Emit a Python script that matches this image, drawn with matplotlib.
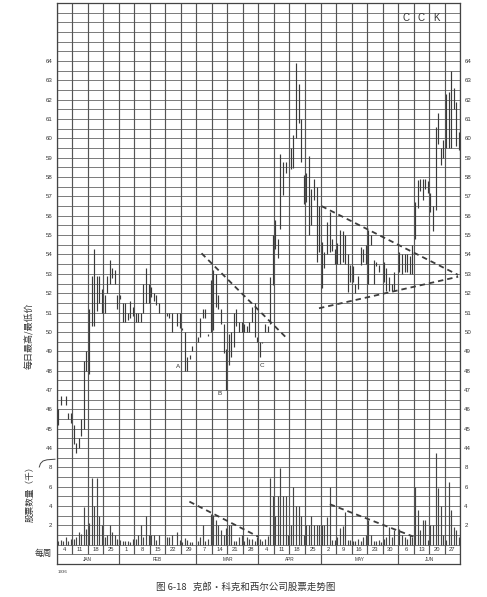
import matplotlib
matplotlib.use("Agg")
import matplotlib.pyplot as plt
from matplotlib.lines import Line2D
import numpy as np

plt.rcParams['font.family'] = ['Liberation Sans', 'DejaVu Sans']
CJK = ['Noto Sans CJK SC', 'DejaVu Sans']

# weekly columns (6 trading days each), Jan - Jun 1936
week_labels = ["4", "11", "18", "25", "1", "8", "15", "22", "29", "7", "14", "21", "28",
               "4", "11", "18", "25", "2", "9", "16", "23", "30", "6", "13", "20", "27"]
month_labels = ["JAN", "FEB", "MAR", "APR", "MAY", "JUN"]
month_weeks = [4, 5, 4, 4, 5, 4]
DAYS = 6

# daily high / low (None = no bar)
price_low = [
    45.2, 46.2, None, 46.2, 45.5, 45.3,
    44.2, 43.75, 44.0, 44.6, 45.0, 48.0,
    47.8, 50.3, 50.3, 51.1, 51.5, 51.0,
    51.0, 52.0, 52.5, 52.8, 52.5, 51.2,
    51.7, 50.5, 50.5, 50.6, 50.7, 50.8,
    50.5, 50.5, 50.5, 51.0, 51.5, 51.5,
    51.8, 51.6, 51.4, 51.0, None, None,
    50.8, 50.7, 50.0, None, 50.3, 50.2,
    50.1, 48.0, 48.0, 48.6, 49.0, None,
    49.5, 49.75, 50.7, 50.7, 49.8, 50.0,
    50.1, 51.3, 51.2, 50.4, 48.9, 47.0,
    48.3, 48.7, 49.2, 50.3, 50.0, 50.0,
    50.0, 50.0, 50.0, 50.5, 49.75, 49.5,
    48.7, 49.4, 50.0, 50.0, 50.4, 52.4,
    54.3, 53.8, 55.3, 57.1, 58.2, None,
    58.4, 58.45, 60.0, 60.8, 58.8, 56.6,
    56.7, 55.0, 55.5, 56.8, 53.6, 54.15,
    52.25, 53.3, 54.0, 54.15, 54.2, 53.5,
    53.5, 53.5, 53.6, 53.5, 52.08, 52.6,
    52.6, 52.0, 52.2, 53.45, 53.6, 53.5,
    52.5, 54.5, 52.5, 53.4, 53.1, None,
    52.6, 52.1, 52.1, 52.1, 52.1, None,
    53.1, 53.0, 53.1, 53.1, 53.0, 53.0,
    54.8, 56.4, 57.3, 56.8, 57.4, 57.2,
    56.2, 55.2, 56.3, 59.7, 58.6, 59.0,
    59.5, 59.5, 59.5, 61.5, 59.6, 59.4,
]
price_high = [
    46.0, 46.7, None, 46.7, 45.8, 45.8,
    45.2, 44.25, 44.5, 45.5, 48.5, 49.0,
    51.2, 52.9, 54.3, 52.9, 52.9, 52.2,
    51.9, 52.9, 53.7, 53.3, 53.2, 51.9,
    51.9, 51.5, 51.5, 51.0, 51.6, 51.3,
    51.0, 51.0, 51.0, 52.5, 53.3, 52.5,
    52.3, 52.0, 51.9, 51.5, None, None,
    51.0, 51.0, 51.0, None, 51.0, 51.0,
    50.2, 50.0, 48.7, 48.8, 49.25, None,
    49.75, 50.7, 51.2, 51.2, 49.9, 52.7,
    53.2, 53.0, 51.9, 51.2, 50.4, 49.1,
    49.9, 50.0, 51.0, 51.2, 50.5, 50.5,
    50.4, 50.3, 50.5, 51.3, 51.5, 49.75,
    49.5, 49.5, 50.4, 50.3, 52.85, 55.0,
    55.8, 54.8, 59.2, 58.8, 58.8, None,
    59.5, 60.2, 63.9, 62.8, 61.0, 58.1,
    58.2, 59.1, 57.4, 57.9, 57.5, 56.5,
    54.66, 54.15, 55.7, 56.2, 54.8, 54.3,
    54.6, 55.27, 55.2, 55.0, 54.0, 53.46,
    53.4, 52.5, 52.9, 54.4, 54.3, 54.5,
    55.27, 55.0, 53.7, 53.6, 53.45, None,
    53.6, 53.3, 52.85, 52.5, 53.1, None,
    54.15, 54.0, 54.0, 54.0, 53.9, 54.5,
    56.7, 57.85, 57.9, 57.9, 57.9, 57.8,
    57.2, 56.5, 60.6, 61.3, 59.5, 59.9,
    62.3, 62.4, 63.5, 62.6, 61.9, 60.35,
]
# daily volume, thousands of shares
volume = [
    0.4, 0.45, 0.4, 0.75, 0.4, 0.55,
    0.6, 0.8, 1.3, 1.1, 3.9, 1.6,
    2.2, 6.9, 4.0, 6.9, 3.0, 2.0,
    0.8, 1.0, 2.0, 1.3, 1.0, 0.6,
    0.5, 0.4, 0.35, 0.4, 0.3, 0.6,
    0.6, 1.0, 2.0, 0.8, 3.0, 1.0,
    1.0, 1.0, 0.5, 1.0, 0, 0,
    0.8, 0.8, 1.0, 0, 1.3, 0.5,
    0.3, 0.7, 0.5, 0.3, 0.3, 0,
    0.4, 0.8, 2.0, 0.4, 0.6, 3.2,
    3.1, 2.6, 2.0, 1.5, 1.0, 1.7,
    2.0, 2.0, 0.4, 0.4, 0.8, 1.0,
    0.4, 0.8, 0.6, 0.6, 0.4, 0.8,
    0.6, 0.4, 0.6, 0.9, 6.9, 5.0,
    3.0, 5.0, 7.9, 5.0, 5.0, 1.0,
    2.0, 6.0, 4.0, 4.0, 3.0, 1.0,
    2.0, 2.0, 3.0, 2.0, 2.0, 2.0,
    2.0, 2.0, 2.9, 6.0, 0.5, 0.5,
    0.8, 1.7, 1.9, 3.4, 0.5, 0.5,
    0.4, 0.4, 0.6, 0.4, 0.8, 1.0,
    2.6, 1.0, 0.4, 0.4, 0.5, 0.3,
    0.6, 0.8, 1.8, 0.8, 1.5, 0,
    1.6, 1.0, 0.8, 0.6, 1.0, 0.8,
    6.0, 3.6, 1.5, 2.6, 2.6, 0.5,
    2.0, 2.0, 9.5, 5.9, 4.0, 1.0,
    0.5, 6.5, 3.6, 1.8, 1.5, 0.8,
]

# dashed trend lines (x in trading days from chart start)
price_trend1_x, price_trend1_y = [56.0, 88.6], [54.06, 49.72]
price_trend2_x, price_trend2_y = [102.4, 155.2], [56.5, 52.94]
price_trend3_x, price_trend3_y = [101.4, 155.2], [51.22, 52.85]
vol_trend1_x, vol_trend1_v = [51.3, 77.9], [4.45, 0.83]
vol_trend2_x, vol_trend2_v = [105.6, 137.9], [4.18, 0.83]

# point labels
point_names = ["A", "B", "C"]
point_x = [47.0, 63.1, 79.2]
point_y = [48.2, 46.8, 48.25]

price_ticks = list(range(44, 65))
vol_ticks = [2, 4, 6, 8]

VOL_BASE = 39.0      # volume zero sits on this grid row
VOL_SCALE = 0.5      # 2 thousand shares per grid unit

n_days = len(week_labels) * DAYS
days = np.arange(n_days)
lo = np.array([np.nan if v is None else v for v in price_low])
hi = np.array([np.nan if v is None else v for v in price_high])
vol = np.array(volume, dtype=float)

fig = plt.figure(figsize=(4.87, 5.97), dpi=100)
ax = fig.add_axes([56.7 / 487, 33 / 597, (460.2 - 56.7) / 487, 561 / 597])
ax.set_xlim(0, n_days)
ax.set_ylim(38, 67)

# horizontal grid every half point
ax.hlines(np.arange(38.5, 67.01, 0.5), 0, n_days, color="#7a7a7a", lw=0.7, zorder=1)
# week columns
ax.vlines(np.arange(0, n_days + 1, DAYS), 38.5, 67, color="#555555", lw=0.85, zorder=1)
# month separators in the bottom row
bounds = np.cumsum([0] + month_weeks) * DAYS
ax.vlines(bounds, 38, 38.5, color="#555555", lw=0.85, zorder=1)

for s in ax.spines.values():
    s.set_color("#444444")
    s.set_linewidth(0.9)

# price bars
ok = ~np.isnan(lo)
ax.vlines(days[ok] + 0.5, lo[ok], hi[ok], color="#3a3a3a", lw=0.85, zorder=3)

# volume bars
vk = vol > 0
ax.vlines(days[vk] + 0.5, VOL_BASE, VOL_BASE + vol[vk] * VOL_SCALE,
          color="#454545", lw=0.85, zorder=3)

dash = dict(color="#3d3d3d", lw=1.3, ls=(0, (3, 2.2)), zorder=4)
ax.plot(price_trend1_x, price_trend1_y, **dash)
ax.plot(price_trend2_x, price_trend2_y, **dash)
ax.plot(price_trend3_x, price_trend3_y, **dash)
ax.plot(vol_trend1_x, [VOL_BASE + v * VOL_SCALE for v in vol_trend1_v], **dash)
ax.plot(vol_trend2_x, [VOL_BASE + v * VOL_SCALE for v in vol_trend2_v], **dash)

for name, px, py in zip(point_names, point_x, point_y):
    ax.text(px, py, name, fontsize=4.5, ha="center", va="center", color="#333333")

# y tick labels on both sides
yt = [VOL_BASE + v * VOL_SCALE for v in vol_ticks] + price_ticks
yl = [str(v) for v in vol_ticks] + [str(p) for p in price_ticks]
ax.set_yticks(yt, yl)
ax.set_xticks([])
ax.tick_params(axis="y", length=0, labelsize=4.4, labelcolor="#333333",
               labelleft=True, labelright=True, pad=3)

# week and month rows
for i, w in enumerate(week_labels):
    ax.text(i * DAYS + DAYS / 2, 38.75, w, fontsize=4.2, ha="center", va="center", color="#333333")
for i, m in enumerate(month_labels):
    ax.text((bounds[i] + bounds[i + 1]) / 2, 38.25, m, fontsize=3.4, ha="center",
            va="center", color="#333333")
ax.text(0.3, 37.6, "1936", fontsize=3.2, ha="left", va="center", color="#333333", clip_on=False)

# C C K header
for i, ch in enumerate(["C", "C", "K"]):
    ax.text((22 + i) * DAYS + DAYS / 2, 66.25, ch, fontsize=7, ha="center", va="center",
            color="#333333")

fig.text(30 / 487, 1 - 336 / 597, "每日最高/最低价", rotation=90, family=CJK,
         fontsize=6.5, ha="center", va="center", color="#333333")
fig.text(30 / 487, 1 - 492 / 597, "股票数量（千）", rotation=90, family=CJK,
         fontsize=6.2, ha="center", va="center", color="#333333")
# small bracket stroke from the volume label toward the scale
bx = [39.3, 40.5, 43.0, 47.0, 55.0]
by = [467.0, 463.5, 461.0, 459.8, 459.2]
fig.add_artist(Line2D([x / 487 for x in bx], [1 - y / 597 for y in by],
                      color="#444444", lw=0.7))
fig.text(43 / 487, 1 - 553 / 597, "每周", family=CJK, fontsize=6.2,
         ha="center", va="center", color="#333333")
fig.text(246 / 487, 1 - 587 / 597, "图 6-18   克郎・科克和西尔公司股票走势图", family=CJK,
         fontsize=6.8, ha="center", va="center", color="#333333")

fig.savefig("out.png", dpi=100, facecolor="white")
